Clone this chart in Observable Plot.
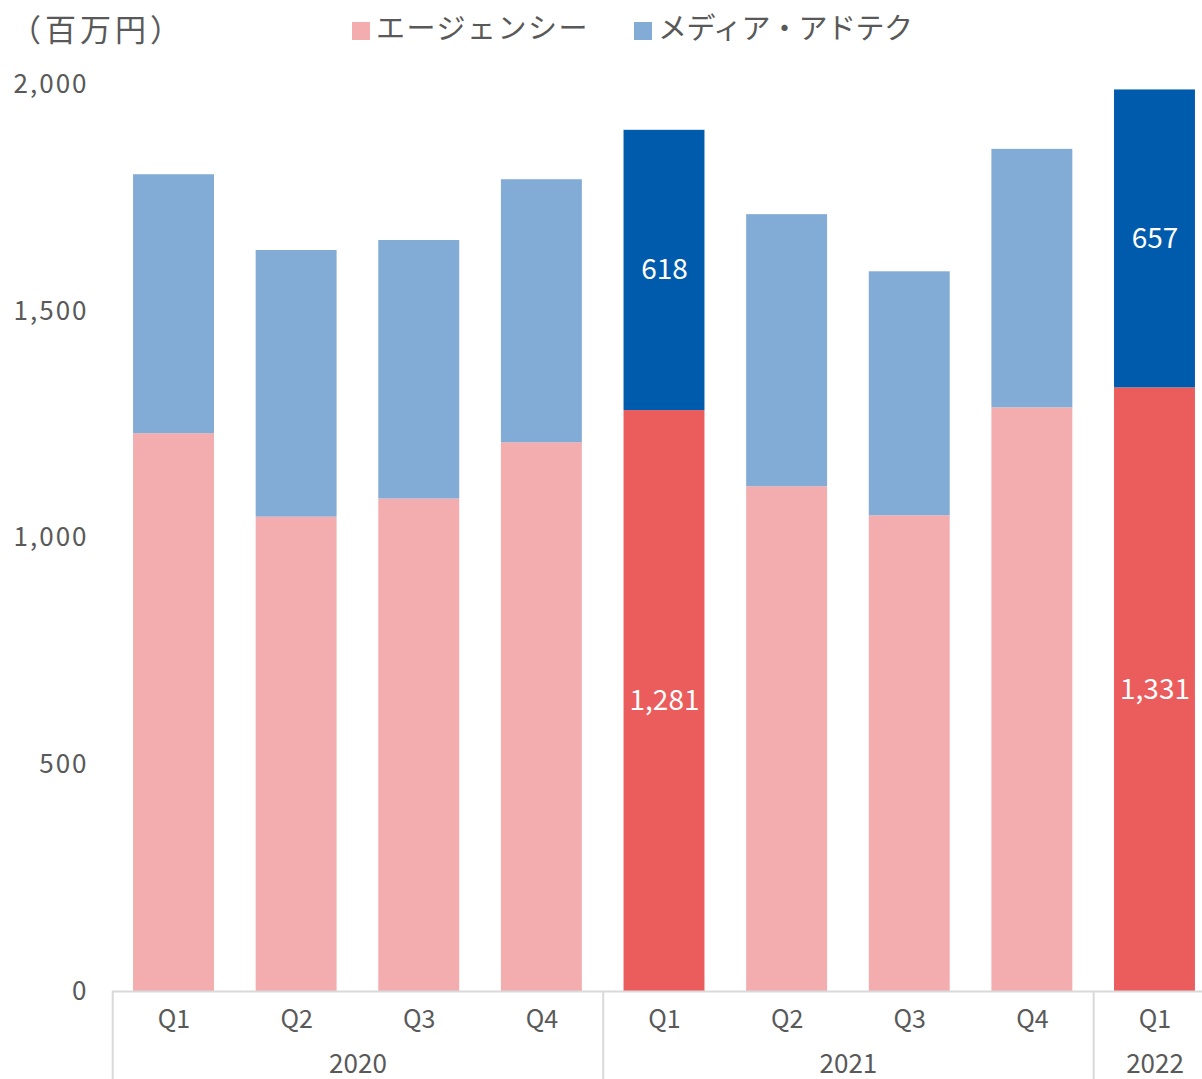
<!DOCTYPE html>
<html>
<head>
<meta charset="utf-8">
<script src="https://cdn.jsdelivr.net/npm/d3@7"></script>
<script src="https://cdn.jsdelivr.net/npm/@observablehq/plot@0.6"></script>
<style>
  html, body { margin: 0; padding: 0; background: #fff; }
  body { width: 1202px; height: 1079px; overflow: hidden; font-family: "Noto Sans CJK JP", "Noto Sans", sans-serif; color: #595959; }
  #header { position: relative; height: 60px; width: 1202px; }
  #unit { position: absolute; left: 10px; top: 8px; font-size: 31px; letter-spacing: 4px; line-height: 40px; }
  .leg { position: absolute; top: 6px; font-size: 29px; line-height: 40px; white-space: nowrap; }
  .sw { display: inline-block; width: 18px; height: 18px; margin-right: 6px; vertical-align: -1px; }
  #chart svg g[aria-label="y-axis tick label"] text { letter-spacing: 2px; }
</style>
</head>
<body>
<div id="header">
  <div id="unit">（百万円）</div>
  <div class="leg" style="left:352px"><span class="sw" style="background:#F3ADAE"></span><span style="letter-spacing:1.5px">エージェンシー</span></div>
  <div class="leg" style="left:634px"><span class="sw" style="background:#82ACD6"></span><span style="letter-spacing:-0.5px">メディア・アドテク</span></div>
</div>
<div id="chart"></div>
<script>
const quarters = ["Q1","Q2","Q3","Q4","Q1","Q2","Q3","Q4","Q1"];
const years    = ["2020","2020","2020","2020","2021","2021","2021","2021","2022"];
const agency   = [1230, 1046, 1086, 1210, 1281, 1113, 1049, 1287, 1331];
const media    = [571, 588, 570, 580, 618, 600, 538, 570, 657];
const highlight = [false, false, false, false, true, false, false, false, true];

const colors = {
  agency: "#F3ADAE", agencyHi: "#EB5C5C",
  media: "#82ACD6", mediaHi: "#005BAC"
};

const rows = quarters.map((q, i) => ({i, q, year: years[i], agency: agency[i], media: media[i], hi: highlight[i]}));
const segs = rows.flatMap(r => [
  {...r, series: "agency", y1: 0, y2: r.agency, value: r.agency},
  {...r, series: "media", y1: r.agency, y2: r.agency + r.media, value: r.media}
]);
const fillOf = d => d.series === "agency" ? (d.hi ? colors.agencyHi : colors.agency) : (d.hi ? colors.mediaHi : colors.media);

const yearNames = Array.from(new Set(years));
const yearRows = yearNames.map(y => {
  const idx = rows.filter(r => r.year === y).map(r => r.i);
  return {year: y, start: d3.min(idx), center: (d3.min(idx) + d3.max(idx) + 1) / 2};
});

const labels = segs.filter(d => d.hi);
const fmt = d3.format(",");

const W = 1202, H = 1019;
const chart = Plot.plot({
  width: W, height: H,
  marginTop: 24, marginBottom: 88, marginLeft: 112, marginRight: 2,
  style: {fontFamily: "'Noto Sans CJK JP', 'Noto Sans', sans-serif", fontSize: "26px", color: "#595959", background: "#fff"},
  x: {type: "linear", domain: [0, 9], range: [112.2, 1215.8], axis: null},
  y: {domain: [0, 2000], ticks: 4, tickFormat: fmt, tickSize: 0, tickPadding: 24, label: null, axis: "left"},
  marks: [
    Plot.rect(segs, {x1: d => d.i + 0.17, x2: d => d.i + 0.83, y1: "y1", y2: "y2", fill: fillOf}),
    Plot.ruleY([0], {x1: 0, x2: 9, stroke: "#D9D9D9", strokeWidth: 2}),
    Plot.ruleX(yearRows.map(d => d.start), {x: d => d, y1: 0, y2: 0, insetBottom: -88, stroke: "#D9D9D9", strokeWidth: 2}),
    Plot.text(rows, {x: d => d.i + 0.5, frameAnchor: "bottom", dy: 36, text: "q", fill: "#595959", fontSize: 25, letterSpacing: "3px"}),
    Plot.text(yearRows, {x: "center", frameAnchor: "bottom", dy: 81, text: "year", fill: "#595959", fontSize: 26, letterSpacing: "3px"}),
    Plot.text(labels, {x: d => d.i + 0.5, y: d => (d.y1 + d.y2) / 2, text: d => fmt(d.value), fill: "#fff", fontSize: 28, letterSpacing: "2px"})
  ]
});
document.getElementById("chart").appendChild(chart);
</script>
</body>
</html>
